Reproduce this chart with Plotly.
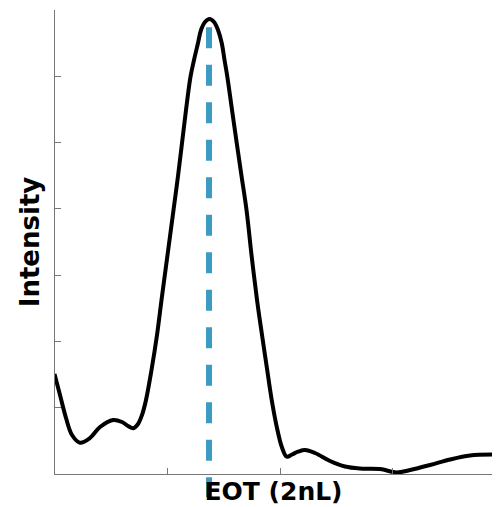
import plotly.graph_objects as go

# Curve (pixel readings converted to tick units below)
px = [54.5, 60, 66, 72, 80, 90, 100, 113, 122, 128, 133.3, 138, 142, 146, 151.5, 157, 161.5,
      167.5, 173.5, 178, 182, 186, 190.5, 194, 198, 201, 205, 209.5, 214, 218, 221.7, 224.5,
      227.3, 232, 236.7, 241.5, 246.5, 251.5, 257, 261.7, 266.7, 271.7, 276.7, 281.7, 286.7,
      292, 298, 305, 315, 330, 345, 360, 380, 396.7, 410, 430, 450, 470, 492]
py = [374, 395, 418, 435, 442.7, 438, 427, 420, 422, 426, 428.3, 424, 415, 400, 370, 335, 300,
      255, 210, 176, 143, 110, 76.7, 60, 43, 30, 22, 19, 22, 30, 43, 60,
      76.7, 110, 143, 176, 210, 255, 300, 333, 366.7, 400, 426.7, 446.7, 456.7,
      454.5, 451.7, 450, 453, 461, 466.5, 468.5, 469, 472.5, 470, 465, 459.5, 455.5, 454.5]
eot = [(p - 55) / 112.5 for p in px]
intensity = [(474 - p) / 66.286 for p in py]

peak_eot = 1.369
x_ticks = [0, 1, 2, 3]
y_ticks = [0, 1, 2, 3, 4, 5, 6, 7]

fig = go.Figure()
fig.add_trace(go.Scatter(x=eot, y=intensity, mode="lines",
                         line=dict(color="black", width=4, shape="spline", smoothing=1.0),
                         hoverinfo="skip", showlegend=False))

fig.add_shape(type="line", xref="x", yref="paper", x0=peak_eot, x1=peak_eot,
              y0=0.963, y1=-0.0496, layer="above",
              line=dict(color="#3b9bc2", width=6, dash="21px,16.5px"))

font_family = "DejaVu Sans"
fig.update_layout(
    width=501, height=507,
    margin=dict(l=47, r=17, t=2, b=41),
    paper_bgcolor="white", plot_bgcolor="white",
    showlegend=False,
    font=dict(family=font_family, color="black"),
)
fig.update_xaxes(range=[0, 3.884], tickvals=x_ticks, showticklabels=False,
                 ticks="inside", ticklen=6, tickcolor="#777", tickwidth=1,
                 showline=True, linecolor="#777", linewidth=1, showgrid=False, zeroline=False,
                 title=dict(text="<b>EOT (2nL)</b>", font=dict(size=25, family=font_family), standoff=8))
fig.update_yaxes(range=[0, 7], tickvals=y_ticks, showticklabels=False,
                 ticks="inside", ticklen=6, tickcolor="#777", tickwidth=1,
                 showline=True, linecolor="#777", linewidth=1, showgrid=False, zeroline=False,
                 title=dict(text="<b>Intensity</b>", font=dict(size=26, family=font_family), standoff=6))

fig.write_html("out.html")
